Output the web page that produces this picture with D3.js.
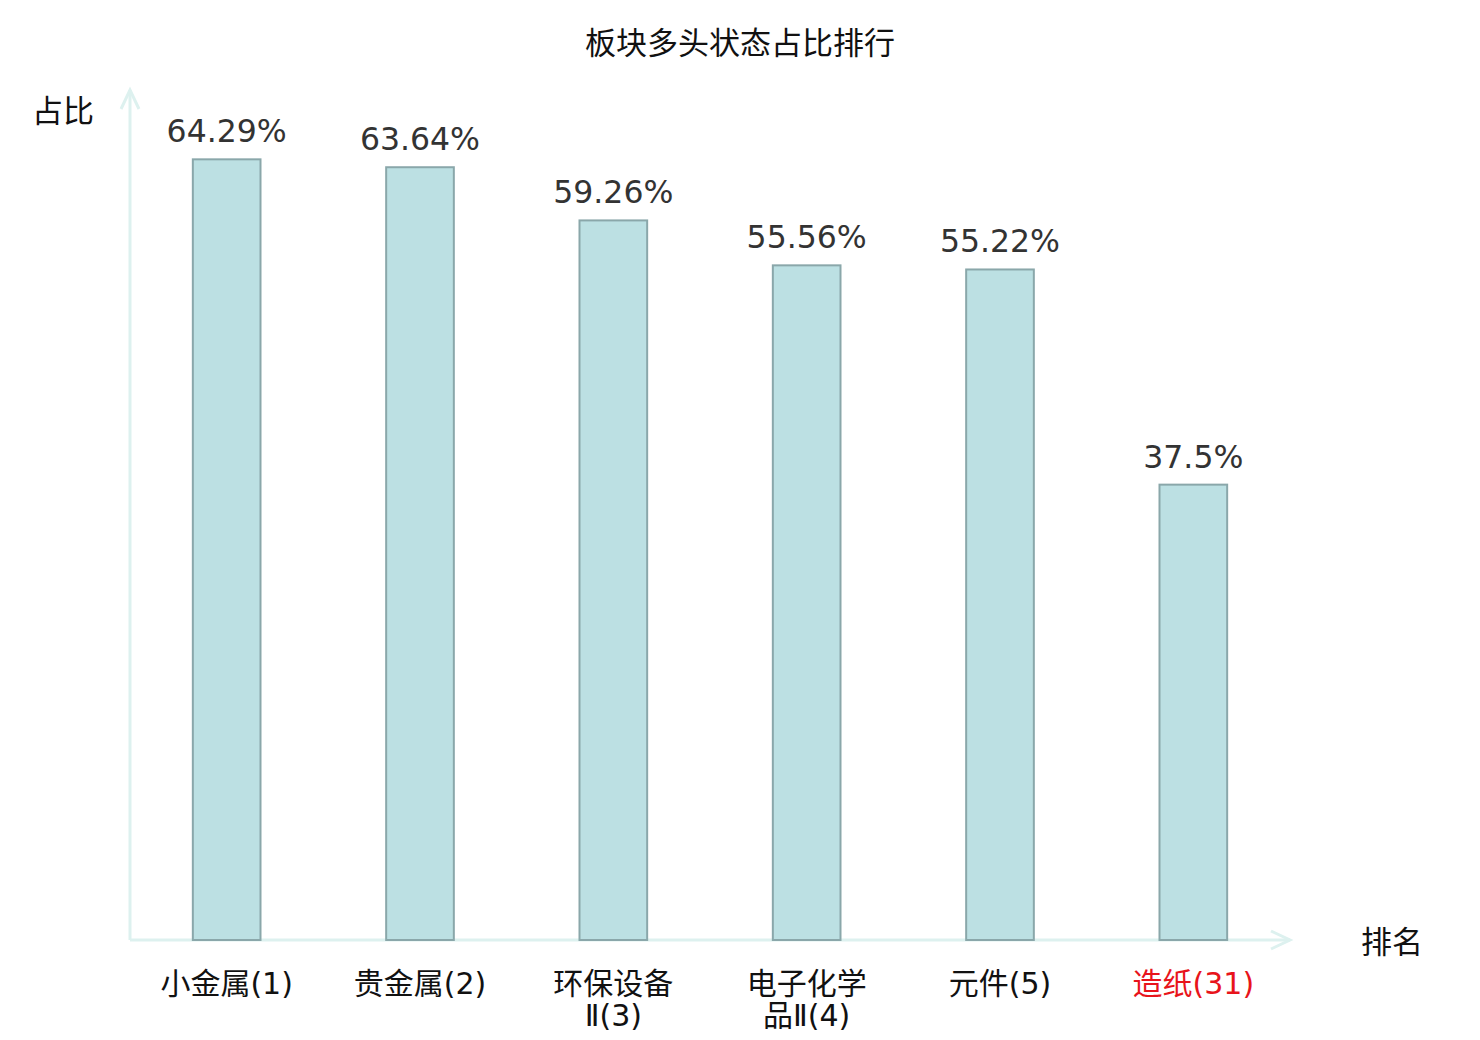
<!doctype html>
<html>
<head>
<meta charset="utf-8">
<title>板块多头状态占比排行</title>
<script src="https://cdn.jsdelivr.net/npm/d3@7"></script>
<style>
  body { margin: 0; background: #fff; }
  text { font-family: "DejaVu Sans", "Noto Sans CJK SC", sans-serif; }
</style>
</head>
<body>
<script>
var categories = ["小金属(1)", "贵金属(2)", "环保设备Ⅱ(3)", "电子化学品Ⅱ(4)", "元件(5)", "造纸(31)"];
var values = [64.29, 63.64, 59.26, 55.56, 55.22, 37.5];
var valueLabels = ["64.29%", "63.64%", "59.26%", "55.56%", "55.22%", "37.5%"];
var highlight = ["造纸(31)"];

var W = 1480, H = 1040;
var mLeft = 130, mRight = 1290, mBottom = 940, mTop = 90;
var axisColor = "#ddf1ef";

var x = d3.scaleBand().domain(categories).range([mLeft, mRight]).paddingInner(0.65).paddingOuter(0.325);
var y = d3.scaleLinear().domain([0, 70]).range([mBottom, mTop]);

var svg = d3.select("body").append("svg")
  .attr("width", W)
  .attr("height", H);

svg.append("text")
  .attr("x", 740).attr("y", 54)
  .attr("text-anchor", "middle")
  .style("font-size", "31px")
  .attr("fill", "#111")
  .text("板块多头状态占比排行");

// axes
svg.append("line")
  .attr("x1", mLeft).attr("y1", mBottom).attr("x2", mRight).attr("y2", mBottom)
  .attr("stroke", axisColor).attr("stroke-width", 3);
svg.append("line")
  .attr("x1", mLeft).attr("y1", mBottom).attr("x2", mLeft).attr("y2", mTop)
  .attr("stroke", axisColor).attr("stroke-width", 3);
svg.append("path")
  .attr("d", "M" + (mLeft - 9) + "," + (mTop + 19) + "L" + mLeft + "," + mTop + "L" + (mLeft + 9) + "," + (mTop + 19))
  .attr("fill", "none").attr("stroke", axisColor).attr("stroke-width", 3);
svg.append("path")
  .attr("d", "M" + (mRight - 19) + "," + (mBottom - 9) + "L" + mRight + "," + mBottom + "L" + (mRight - 19) + "," + (mBottom + 9))
  .attr("fill", "none").attr("stroke", axisColor).attr("stroke-width", 3);

// bars
svg.selectAll("rect.bar")
  .data(values)
  .enter().append("rect")
  .attr("class", "bar")
  .attr("x", function(d, i) { return x(categories[i]); })
  .attr("y", function(d) { return y(d); })
  .attr("width", x.bandwidth())
  .attr("height", function(d) { return y(0) - y(d); })
  .attr("fill", "#bce0e3")
  .attr("stroke", "#8aa7aa")
  .attr("stroke-width", 2);

svg.selectAll("text.val")
  .data(values)
  .enter().append("text")
  .attr("class", "val")
  .attr("x", function(d, i) { return x(categories[i]) + x.bandwidth() / 2; })
  .attr("y", function(d) { return y(d) - 17; })
  .attr("text-anchor", "middle")
  .style("font-size", "31.5px")
  .attr("fill", "#333")
  .text(function(d, i) { return valueLabels[i]; });

svg.append("text")
  .attr("x", 63).attr("y", 122)
  .attr("text-anchor", "middle")
  .style("font-size", "31px")
  .attr("fill", "#111")
  .text("占比");
svg.append("text")
  .attr("x", 1392).attr("y", 953)
  .attr("text-anchor", "middle")
  .style("font-size", "31px")
  .attr("fill", "#111")
  .text("排名");

// category labels: long names break after four characters
var cat = svg.selectAll("text.cat")
  .data(categories)
  .enter().append("text")
  .attr("class", "cat")
  .attr("text-anchor", "middle")
  .style("font-size", "30px")
  .attr("fill", function(d) { return highlight.indexOf(d) >= 0 ? "#e8141b" : "#111"; });

cat.each(function(d) {
  var t = d3.select(this);
  var cx = x(d) + x.bandwidth() / 2;
  var chars = Array.from(d), lines = [];
  if (chars.length > 6) {
    lines = [chars.slice(0, 4).join(""), chars.slice(4).join("")];
  } else {
    lines = [d];
  }
  lines.forEach(function(l, i) {
    t.append("tspan").attr("x", cx).attr("y", 994 + i * 32).text(l);
  });
});
</script>
</body>
</html>
